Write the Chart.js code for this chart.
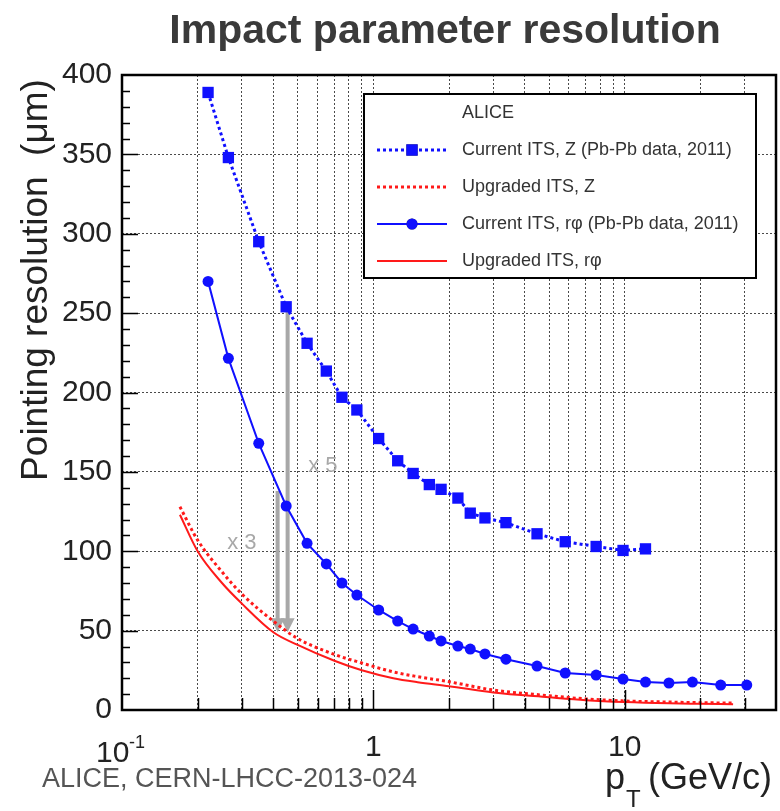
<!DOCTYPE html>
<html>
<head>
<title>Impact parameter resolution</title>
<script src="https://cdn.jsdelivr.net/npm/chart.js"></script>
<style>
  body { margin: 0; background: #fff; }
  canvas { display: block; }
</style>
</head>
<body>
<canvas id="chart" width="780" height="811"></canvas>
<script>
// pT bins of the 2011 Pb-Pb points (GeV/c)
const ptBins = [0.22, 0.265, 0.35, 0.45, 0.545, 0.65, 0.75, 0.86, 1.05, 1.25, 1.44, 1.67, 1.86, 2.17,
                2.43, 2.78, 3.37, 4.48, 5.8, 7.7, 9.85, 12.1, 15, 18.6, 24.1, 30.6];
// current ITS, Z (um) - only the first 22 bins
const currentZ = [389, 348, 295, 254, 231, 213.5, 197, 189, 171, 157, 149, 142, 139, 133.5,
                  124, 121, 118, 111, 106, 103, 100.5, 101.5];
// current ITS, r-phi (um)
const currentRphi = [270, 221.5, 168, 128.5, 105, 92, 80, 72.4, 63, 56, 51, 46.6, 43.5, 40.3,
                     38.4, 35.3, 32, 27.7, 23.3, 22, 19.5, 17.6, 17, 17.6, 15.7, 15.7];
// upgraded ITS curves
const upgPt   = [0.17, 0.2, 0.25, 0.3, 0.4, 0.5, 0.7, 0.9, 1.2, 1.5, 2, 3, 5, 7, 10, 15, 20, 27];
const upgZ    = [128, 107, 87, 73, 56, 45, 35, 29.6, 24, 21, 17.8, 12.6, 9, 7, 5.7, 5, 4.6, 4.4];
const upgRphi = [123, 100, 80, 67, 49, 41, 31, 25, 20, 17.5, 15, 11, 8, 6.2, 5, 4.2, 3.9, 3.6];

const xTicks = [0.1, 0.2, 0.3, 0.4, 0.5, 0.6, 0.7, 0.8, 0.9, 1, 2, 3, 4, 5, 6, 7, 8, 9, 10, 20, 30, 40];
const xLabels = ['1', '10'];
const yMax = 400;

// gray "gain" arrows: pT position, from, to, label and label position
const arrowPt = [0.416, 0.456];
const arrowFrom = [138, 252];
const arrowTo = [49, 49];
const arrowText = ['x 3', 'x 5'];
const arrowTextPt = [0.3, 0.63];
const arrowTextY = [105, 154];

const FONT = "'Liberation Sans', Arial, Helvetica, sans-serif";
const BLUE = '#1010ff';
const RED = '#ff1a1a';

const toXY = (xs, ys) => ys.map((y, i) => ({x: xs[i], y: y}));

const datasets = [
  {
    label: 'Current ITS, Z (Pb-Pb data, 2011)',
    data: toXY(ptBins, currentZ),
    borderColor: BLUE, backgroundColor: BLUE,
    borderWidth: 3, borderDash: [3, 3],
    pointStyle: 'rect', pointRadius: 8, pointBorderWidth: 0,
  },
  {
    label: 'Upgraded ITS, Z',
    data: toXY(upgPt, upgZ),
    borderColor: RED, backgroundColor: RED,
    borderWidth: 3, borderDash: [3, 3],
    pointRadius: 0, cubicInterpolationMode: 'monotone',
  },
  {
    label: 'Current ITS, r\u03c6 (Pb-Pb data, 2011)',
    data: toXY(ptBins, currentRphi),
    borderColor: BLUE, backgroundColor: BLUE,
    borderWidth: 2,
    pointStyle: 'circle', pointRadius: 5.5, pointBorderWidth: 0,
  },
  {
    label: 'Upgraded ITS, r\u03c6',
    data: toXY(upgPt, upgRphi),
    borderColor: RED, backgroundColor: RED,
    borderWidth: 2,
    pointRadius: 0, cubicInterpolationMode: 'monotone',
  },
];

// arrows sit under the data
const arrowPlugin = {
  id: 'arrows',
  beforeDatasetsDraw(chart) {
    const {ctx, scales: {x, y}} = chart;
    ctx.save();
    ctx.fillStyle = '#a8a8a8';
    for (let i = 0; i < arrowPt.length; i++) {
      const ax = x.getPixelForValue(arrowPt[i]);
      const y1 = y.getPixelForValue(arrowFrom[i]);
      const y2 = y.getPixelForValue(arrowTo[i]);
      ctx.fillRect(ax - 2, y1, 4, y2 - y1 - 12);
      ctx.beginPath();
      ctx.moveTo(ax - 7, y2 - 14);
      ctx.lineTo(ax + 7, y2 - 14);
      ctx.lineTo(ax, y2);
      ctx.closePath();
      ctx.fill();
    }
    ctx.font = '22px ' + FONT;
    ctx.textAlign = 'center';
    ctx.textBaseline = 'middle';
    for (let i = 0; i < arrowText.length; i++) {
      ctx.fillText(arrowText[i], x.getPixelForValue(arrowTextPt[i]), y.getPixelForValue(arrowTextY[i]));
    }
    ctx.restore();
  }
};

// frame, inward ticks, titles and the legend box
const decoPlugin = {
  id: 'deco',
  afterDraw(chart) {
    const {ctx, chartArea: a, scales: {x, y}} = chart;
    ctx.save();
    ctx.strokeStyle = '#000';
    ctx.lineWidth = 1.5;
    ctx.beginPath();
    for (let v = 10; v < yMax; v += 10) {
      const py = Math.round(y.getPixelForValue(v)) + 0.5;
      const len = v % 50 === 0 ? 16 : 8;
      ctx.moveTo(a.left, py);
      ctx.lineTo(a.left + len, py);
    }
    xTicks.forEach(v => {
      if (v === xTicks[0] || v === xTicks[xTicks.length - 1]) return;
      const pxv = Math.round(x.getPixelForValue(v)) + 0.5;
      const len = (v === 1 || v === 10) ? 20 : 12;
      ctx.moveTo(pxv, a.bottom);
      ctx.lineTo(pxv, a.bottom - len);
    });
    ctx.stroke();
    ctx.lineWidth = 2.5;
    ctx.strokeRect(a.left, a.top, a.right - a.left, a.bottom - a.top);

    // title
    ctx.fillStyle = '#3a3a3a';
    ctx.font = 'bold 41px ' + FONT;
    ctx.textAlign = 'center';
    ctx.textBaseline = 'alphabetic';
    ctx.fillText('Impact parameter resolution', 445, 43);

    // first x label 10^-1, centred on the axis start
    ctx.fillStyle = '#222';
    ctx.textAlign = 'left';
    ctx.font = '30px ' + FONT;
    ctx.fillText('10', a.left - 26, 762);
    ctx.font = '18px ' + FONT;
    ctx.fillText('-1', a.left + 7, 748);

    // x title
    ctx.font = '36px ' + FONT;
    ctx.fillText('p', 605, 789);
    ctx.font = '24px ' + FONT;
    ctx.fillText('T', 626, 807);
    ctx.font = '36px ' + FONT;
    ctx.fillText('(GeV/c)', 648, 789);

    // y title
    ctx.save();
    ctx.translate(47, 280);
    ctx.rotate(-Math.PI / 2);
    ctx.textAlign = 'center';
    ctx.font = '37px ' + FONT;
    ctx.fillText('Pointing resolution  (\u03bcm)', 0, 0);
    ctx.restore();

    // footnote
    ctx.fillStyle = '#555';
    ctx.font = '27px ' + FONT;
    ctx.fillText('ALICE, CERN-LHCC-2013-024', 42, 787);

    // legend
    const lx = 364, ly = 94, lw = 392, lh = 184;
    ctx.fillStyle = '#fff';
    ctx.fillRect(lx, ly, lw, lh);
    ctx.strokeStyle = '#000';
    ctx.lineWidth = 2;
    ctx.strokeRect(lx, ly, lw, lh);
    ctx.fillStyle = '#333';
    ctx.font = '18px ' + FONT;
    ctx.textBaseline = 'middle';
    ctx.fillText('ALICE', 462, 113);
    chart.data.datasets.forEach((ds, i) => {
      const ry = 150 + i * 37;
      ctx.save();
      ctx.strokeStyle = ds.borderColor;
      ctx.lineWidth = ds.borderWidth;
      ctx.setLineDash(ds.borderDash || []);
      ctx.beginPath();
      ctx.moveTo(377, ry);
      ctx.lineTo(447, ry);
      ctx.stroke();
      ctx.restore();
      if (ds.pointRadius > 0) {
        Chart.helpers.drawPoint(ctx, {pointStyle: ds.pointStyle, radius: ds.pointRadius, borderWidth: 0, rotation: 0}, 412, ry);
        ctx.fillStyle = ds.backgroundColor;
        ctx.fill();
      }
      ctx.fillStyle = '#333';
      ctx.fillText(ds.label, 462, ry);
    });
    ctx.restore();
  }
};

new Chart(document.getElementById('chart'), {
  type: 'line',
  data: {datasets: datasets},
  options: {
    responsive: false,
    animation: false,
    layout: {autoPadding: false, padding: {left: 0, top: 75, right: 4, bottom: 0}},
    plugins: {legend: {display: false}, title: {display: false}, tooltip: {enabled: false}},
    scales: {
      x: {
        type: 'logarithmic',
        min: xTicks[0], max: xTicks[xTicks.length - 1],
        afterBuildTicks: s => { s.ticks = xTicks.map(v => ({value: v})); },
        afterFit: s => { s.height = 101; s.paddingLeft = 0; s.paddingRight = 0; },
        grid: {color: '#4a4a4a', lineWidth: 1, drawTicks: false},
        border: {display: false, dash: [2, 2]},
        ticks: {
          autoSkip: false, maxRotation: 0, padding: 20, color: '#222',
          font: {family: FONT, size: 30},
          callback: v => xLabels.includes(String(v)) ? String(v) : ''
        }
      },
      y: {
        type: 'linear',
        min: 0, max: yMax,
        afterFit: s => { s.width = 122; },
        grid: {color: '#4a4a4a', lineWidth: 1, drawTicks: false},
        border: {display: false, dash: [2, 2]},
        ticks: {stepSize: 50, padding: 10, color: '#222', font: {family: FONT, size: 30}}
      }
    }
  },
  plugins: [arrowPlugin, decoPlugin]
});
</script>
</body>
</html>
